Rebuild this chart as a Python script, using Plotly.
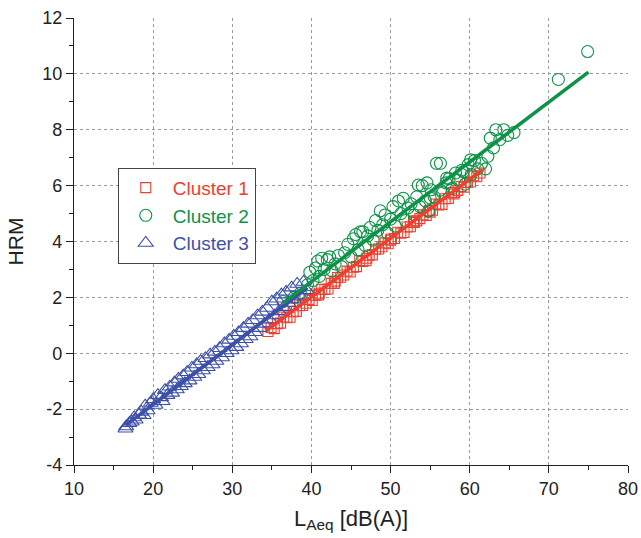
import plotly.graph_objects as go

# ---------------- data ----------------
c1_x = [34.5, 34.9, 35.3, 35.7, 36.1, 36.5, 36.9, 37.3, 37.7, 38.1, 38.5, 38.9, 39.3, 39.7,
        40.1, 40.5, 40.9, 41.0, 41.3, 41.7, 42.1, 42.5, 42.9, 43.0, 43.3, 43.7, 44.1, 44.5,
        44.9, 45.3, 45.7, 46.1, 46.5, 46.9, 47.0, 47.3, 47.7, 48.1, 48.5, 48.9, 49.3, 49.7,
        50.0, 50.1, 50.5, 50.9, 51.3, 51.7, 52.1, 52.5, 52.9, 53.0, 53.3, 53.7, 54.1, 54.5,
        54.9, 55.0, 55.3, 55.7, 56.1, 56.5, 56.9, 57.3, 57.7, 58.0, 58.1, 58.5, 58.9, 59.3,
        59.7, 60.1, 60.5, 60.9, 61.3]
c1_y = [0.78, 0.92, 0.88, 1.06, 1.08, 1.30, 1.27, 1.29, 1.49, 1.50, 1.70, 1.71, 1.79, 1.93,
        1.89, 2.07, 2.09, 2.15, 2.29, 2.28, 2.30, 2.50, 2.50, 2.58, 2.71, 2.72, 2.80, 2.94,
        2.91, 3.08, 3.10, 3.32, 3.29, 3.31, 3.40, 3.51, 3.52, 3.72, 3.73, 3.81, 3.95, 3.92,
        4.05, 4.09, 4.11, 4.33, 4.30, 4.32, 4.52, 4.53, 4.73, 4.68, 4.74, 4.82, 4.96, 4.93,
        5.10, 5.05, 5.12, 5.34, 5.31, 5.33, 5.53, 5.54, 5.74, 5.70, 5.76, 5.83, 5.97, 5.94,
        6.11, 6.13, 6.35, 6.32, 6.45]

c2_x = [36.4, 37.8, 38.6, 39.5, 39.8, 40.2, 40.5, 40.8, 41.0, 41.3, 41.6, 42.0, 42.3, 42.6,
        43.0, 43.4, 43.8, 44.2, 44.6, 45.0, 45.3, 45.6, 45.9, 46.2, 46.5, 46.8, 47.1, 47.4,
        47.8, 48.1, 48.4, 48.7, 49.0, 49.3, 49.6, 50.0, 50.3, 50.6, 51.0, 51.3, 51.6, 51.9,
        52.2, 52.6, 53.0, 53.3, 53.5, 53.7, 54.0, 54.4, 54.6, 54.8, 55.0, 55.1, 55.5, 55.8,
        56.3, 56.3, 56.6, 57.0, 57.1, 57.4, 57.8, 58.2, 58.6, 59.0, 59.2, 59.4, 59.8, 60.1,
        60.2, 60.6, 61.0, 61.5, 62.0, 62.3, 62.6, 63.0, 63.3, 63.8, 64.3, 64.8, 65.6, 71.2,
        74.9]
c2_y = [1.85, 2.00, 2.15, 2.45, 2.90, 2.60, 3.05, 3.30, 2.75, 3.40, 3.00, 3.35, 3.45, 2.95,
        3.20, 3.50, 3.10, 3.60, 3.90, 3.45, 4.10, 4.25, 3.70, 4.35, 4.35, 3.85, 4.20, 4.50,
        4.05, 4.75, 4.40, 5.10, 4.60, 4.95, 4.30, 4.80, 5.25, 4.55, 5.45, 5.00, 5.55, 4.75,
        5.20, 5.35, 4.95, 5.60, 6.02, 5.25, 6.00, 5.45, 6.10, 5.10, 5.56, 5.85, 5.60, 6.80,
        6.80, 5.84, 5.75, 6.10, 6.27, 6.25, 5.90, 6.45, 6.20, 6.55, 6.50, 6.05, 6.75, 6.92,
        6.40, 6.90, 6.60, 6.80, 6.60, 7.05, 7.70, 7.35, 8.00, 7.65, 8.00, 7.80, 7.90, 9.80,
        10.80]

c3_x = [16.5, 16.6, 17.0, 17.3, 17.6, 17.8, 18.2, 18.5, 18.8, 19.0, 19.3, 19.7, 20.0, 20.3,
        20.6, 21.0, 21.2, 21.5, 21.8, 22.1, 22.4, 22.7, 23.0, 23.2, 23.5, 23.8, 24.0, 24.3,
        24.6, 24.9, 25.2, 25.5, 25.7, 26.0, 26.3, 26.6, 26.9, 27.2, 27.5, 27.8, 28.0, 28.4,
        28.7, 29.0, 29.3, 29.6, 29.9, 30.2, 30.5, 30.8, 31.1, 31.4, 31.7, 32.0, 32.3, 32.6,
        32.9, 33.2, 33.5, 33.8, 34.1, 34.4, 34.7, 35.0, 35.3, 35.6, 35.9, 36.2, 36.5, 36.8,
        37.1, 37.5, 37.8, 38.2, 38.6, 39.0, 39.4]
c3_y = [-2.70, -2.62, -2.50, -2.45, -2.30, -2.38, -2.20, -2.10, -2.22, -1.88, -2.05, -1.78,
        -1.65, -1.85, -1.50, -1.58, -1.72, -1.32, -1.50, -1.20, -1.42, -1.05, -1.30, -0.92,
        -1.18, -0.80, -1.08, -0.68, -0.98, -0.52, -0.85, -0.40, -0.75, -0.28, -0.62, -0.18,
        -0.50, -0.05, -0.40, 0.05, -0.28, 0.18, -0.15, 0.35, 0.00, 0.48, 0.10, 0.62, 0.22,
        0.75, 0.35, 0.90, 0.50, 1.05, 0.60, 1.18, 0.75, 1.35, 0.90, 1.48, 1.05, 1.62, 1.20,
        1.85, 1.35, 1.95, 1.50, 2.10, 1.65, 2.20, 1.80, 2.35, 1.92, 2.48, 2.05, 2.55, 2.25]

# linear fits (slope, intercept)
fit_slope = [0.2106, 0.2143, 0.2140]
fit_intercept = [-6.41, -6.01, -6.114]
fit_xmin = [34.3, 36.5, 16.56]
fit_xmax = [61.6, 75.0, 39.5]

names = ["Cluster 1", "Cluster 2", "Cluster 3"]
x_ticks = [10, 20, 30, 40, 50, 60, 70, 80]
x_tick_labels = ["10", "20", "30", "40", "50", "60", "70", "80"]
y_ticks = [-4, -2, 0, 2, 4, 6, 8, 10, 12]
y_tick_labels = ["-4", "-2", "0", "2", "4", "6", "8", "10", "12"]

colors = ["#F03E2E", "#0C9347", "#3D50A9"]
symbols = ["square-open", "circle-open", "triangle-up-open"]
sizes = [10, 12, 13]

xs = [c1_x, c2_x, c3_x]
ys = [c1_y, c2_y, c3_y]

fig = go.Figure()
for i in [0, 1, 2]:
    fig.add_trace(go.Scatter(
        x=xs[i], y=ys[i], mode="markers",
        name=f"<span style='color:{colors[i]}'>{names[i]}</span>",
        marker=dict(symbol=symbols[i], size=sizes[i], color=colors[i],
                    line=dict(width=1.1, color=colors[i])),
    ))
for i in [2, 0, 1]:
    lx = [fit_xmin[i], fit_xmax[i]]
    ly = [fit_slope[i] * v + fit_intercept[i] for v in lx]
    fig.add_trace(go.Scatter(x=lx, y=ly, mode="lines", showlegend=False,
                             line=dict(color=colors[i], width=3.5)))

FONT = "Liberation Sans, Arial"
axis_font = dict(family=FONT, size=18, color="#222")
common = dict(showline=True, linecolor="#222", linewidth=1.4, ticks="outside",
              ticklen=7, tickwidth=1.2, tickcolor="#222", tickfont=axis_font,
              showgrid=True, gridcolor="#9a9a9a", griddash="3px,3px", gridwidth=1,
              zeroline=False, mirror=False, automargin=False)
fig.update_layout(
    width=641, height=538,
    margin=dict(l=74, r=13, t=18, b=73),
    paper_bgcolor="white", plot_bgcolor="white",
    font=dict(family=FONT, color="#222"),
    legend=dict(x=0.079, y=0.665, xanchor="left", yanchor="top",
                bgcolor="white", bordercolor="#444", borderwidth=1,
                font=dict(size=19, family=FONT),
                itemsizing="trace", itemwidth=44, tracegroupgap=0),
    xaxis=dict(range=[10, 80], tickvals=x_ticks, ticktext=x_tick_labels,
               minor=dict(dtick=5, tick0=10, ticks="outside", ticklen=4, tickcolor="#222",
                          showgrid=False),
               title=dict(text="L<sub>Aeq</sub> [dB(A)]", font=dict(size=22), standoff=12),
               **common),
    yaxis=dict(range=[-4, 12], tickvals=y_ticks, ticktext=y_tick_labels,
               minor=dict(dtick=1, tick0=-4, ticks="outside", ticklen=4, tickcolor="#222",
                          showgrid=False),
               title=dict(text="HRM", font=dict(size=21), standoff=12),
               **common),
)

fig.write_html("out.html")
